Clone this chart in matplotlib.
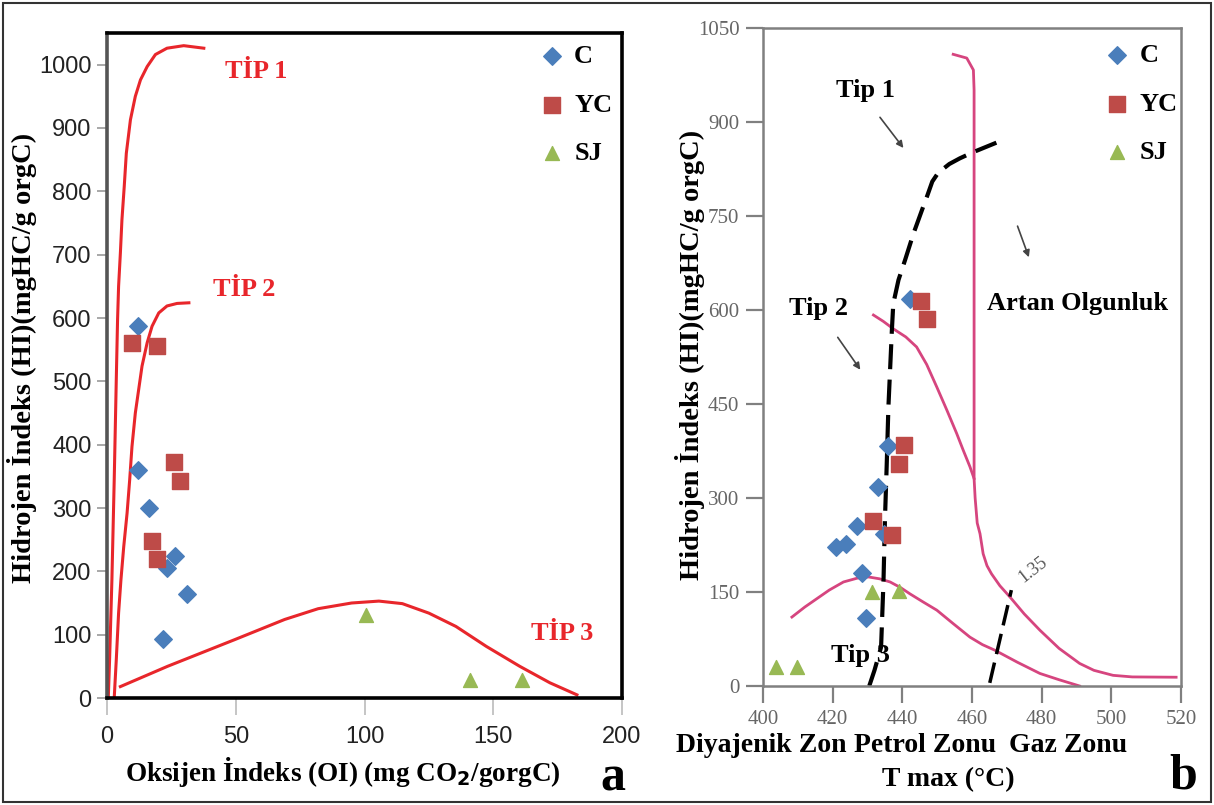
import matplotlib
matplotlib.use("Agg")
import matplotlib.pyplot as plt
from matplotlib.patches import Rectangle

# ---------------- data: panel a (HI vs OI) ----------------
c_oi = [12, 12, 16.5, 26.5, 23.2, 31, 21.7]
c_hi = [587, 360, 300, 224, 205, 164, 93]
yc_oi = [9.9, 19.6, 26, 28.4, 17.6, 19.6]
yc_hi = [561, 555, 372, 343, 248, 220]
sj_oi = [100.4, 140.8, 161]
sj_hi = [131, 28, 28]

tip1_x = [0.5, 1.0, 1.9, 2.8, 3.6, 4.1, 4.5, 5.2, 5.8, 6.7, 7.5, 9.1, 11, 13, 15.6,
          18.8, 23.3, 29.8, 37.6]
tip1_y = [0, 60, 186, 344, 502, 597, 650, 703, 755, 808, 860, 913, 950, 976, 997,
          1016, 1026, 1030, 1026]
tip2_x = [2.8, 3.6, 4.5, 5.4, 6.5, 7.8, 8.8, 9.7, 11, 12.3, 13.6, 15.6, 17.5, 20.1,
          23.3, 27.2, 31.8]
tip2_y = [0, 60, 134, 186, 239, 292, 344, 397, 450, 487, 524, 561, 587, 608, 619,
          623, 624]
tip3_x = [5.2, 23.5, 49.5, 69, 82, 95, 105.6, 114.7, 125, 135.5, 147.3, 160.3, 172, 182.5]
tip3_y = [18, 50, 92, 124, 141, 150, 153, 149, 134, 113, 81.5, 50, 24, 5]

# ---------------- data: panel b (HI vs Tmax) ----------------
c_t = [442.2, 435.8, 432.9, 427.1, 421.0, 423.9, 434.6, 428.4, 429.5]
c_h = [617, 383, 318, 256, 222, 226, 242, 181, 109]
yc_t = [445.3, 447.0, 440.5, 439.1, 431.7, 437.0]
yc_h = [614, 586, 385, 355, 263, 241]
sj_t = [431.2, 439.1, 403.8, 409.7]
sj_h = [150, 152, 30, 30]

curveA_t = [454.6, 458.5, 460.4, 460.6, 460.6, 460.6, 460.9, 461.5, 462.3, 463.2,
            464.3, 465.6, 468.0, 470.9, 475.0, 479.5, 485.0, 490.9, 495.0, 500.5,
            506.0, 518.6]
curveA_h = [1008, 1002, 983, 951, 600, 331, 300, 260, 243, 211,
            192, 179, 160, 142, 115, 89, 60, 36, 25, 17,
            14.5, 14]
curveB_t = [431.7, 434.5, 437.4, 441.0, 444.1, 447.0, 449.9, 452.8, 455.6, 457.5,
            459.4, 460.6]
curveB_h = [592, 582, 570, 557, 541, 513, 477, 440, 403, 376, 350, 331]
tip3b_t = [408.3, 412, 415.5, 419, 423.1, 427, 430.3, 433.5, 436.5, 439.5, 442.2,
           446, 449.9, 454.5, 459.4, 463, 466.6, 473, 479.5, 485, 490.9]
tip3b_h = [110, 126, 139.5, 153, 166, 172, 174, 171, 166, 157, 147,
           134, 121, 100, 78, 66, 57, 38, 20, 10, 0]
dash_t = [430.5, 432.0, 433.9, 434.6, 435.0, 435.5, 436.0, 437.0, 437.4, 438.9,
          440.8, 443.2, 446.0, 447.2, 448.6, 450.3, 453.5, 456.5, 460.4, 467.0]
dash_h = [0, 25, 62, 169, 264, 350, 445, 568, 610, 648,
          680, 722, 765, 783, 805, 819, 833, 842, 852, 867]
r135_t = [465.1, 471.3]
r135_h = [5, 153]

xticks_a = [0, 50, 100, 150, 200]
yticks_a = [0, 100, 200, 300, 400, 500, 600, 700, 800, 900, 1000]
xticks_b = [400, 420, 440, 460, 480, 500, 520]
yticks_b = [0, 150, 300, 450, 600, 750, 900, 1050]

BLUE = "#4a7ebb"
RED_M = "#be4b48"
GREEN = "#98b954"
RED = "#e8262b"
PINK = "#d6457f"
SERIF = ["Liberation Serif", "DejaVu Serif"]

W, H = 1214, 805
fig = plt.figure(figsize=(W / 100, H / 100), dpi=100)


def fx(px):
    return px / W


def fy(py):
    return 1 - py / H


# ---------------- panel a ----------------
ax = fig.add_axes([fx(107), fy(698), (622 - 107) / W, (698 - 33) / H])
ax.set_xlim(0, 200)
ax.set_ylim(0, 1050)
ax.plot(tip1_x, tip1_y, color=RED, lw=2.2, solid_joinstyle="round")
ax.plot(tip2_x, tip2_y, color=RED, lw=2.2, solid_joinstyle="round")
ax.plot(tip3_x, tip3_y, color=RED, lw=2.2, solid_joinstyle="round")
ax.scatter(c_oi, c_hi, marker="D", s=80, color=BLUE, zorder=3, label="C")
ax.scatter(yc_oi, yc_hi, marker="s", s=120, color=RED_M, zorder=3, label="YC")
ax.scatter(sj_oi, sj_hi, marker="^", s=100, color=GREEN, zorder=3, label="SJ")
ax.set_xticks(xticks_a)
ax.set_yticks(yticks_a)
for s in ["top", "right", "bottom"]:
    ax.spines[s].set_color("black")
    ax.spines[s].set_linewidth(2.6)
ax.spines["left"].set_color("#555555")
ax.spines["left"].set_linewidth(2.6)
ax.tick_params(axis="y", direction="out", length=7, width=1.2, color="#999999",
               labelsize=17, pad=4, labelcolor="#222222")
ax.tick_params(axis="x", direction="out", length=12, width=1.2, color="#bbbbbb",
               labelsize=17, pad=8, labelcolor="#222222")
for lab in ax.get_xticklabels() + ax.get_yticklabels():
    lab.set_fontfamily(["Liberation Sans", "DejaVu Sans"])
ax.legend(loc="upper right", bbox_to_anchor=(1.012, 1.006), frameon=False,
          prop={"family": SERIF, "weight": "bold", "size": 19},
          handlelength=1.0, handletextpad=0.35, labelspacing=0.95,
          borderaxespad=0.2, scatterpoints=1)
tkw = dict(xycoords="figure fraction", ha="center", va="center", color=RED,
           fontsize=19, fontweight="bold", family=SERIF)
ax.annotate("TİP 1", xy=(fx(256), fy(72)), **tkw)
ax.annotate("TİP 2", xy=(fx(244), fy(290)), **tkw)
ax.annotate("TİP 3", xy=(fx(562), fy(633)), **tkw)

fig.text(fx(22), fy(358), "Hidrojen İndeks (HI)(mgHC/g orgC)", rotation=90,
         ha="center", va="center", fontsize=20.5, fontweight="bold", family=SERIF)
fig.text(fx(343), fy(772), "Oksijen İndeks (OI) (mg CO$_\\mathbf{2}$/gorgC)",
         ha="center", va="center", fontsize=19.5, fontweight="bold", family=SERIF)
fig.text(fx(613), fy(790), "a", ha="center", va="baseline", fontsize=36,
         fontweight="bold", family=SERIF)

# ---------------- panel b ----------------
bx = fig.add_axes([fx(763), fy(686), (1181 - 763) / W, (686 - 28) / H])
bx.set_xlim(400, 520)
bx.set_ylim(0, 1050)
bx.plot(curveA_t, curveA_h, color=PINK, lw=2, solid_joinstyle="round")
bx.plot(curveB_t, curveB_h, color=PINK, lw=2, solid_joinstyle="round")
bx.plot(tip3b_t, tip3b_h, color=PINK, lw=2, solid_joinstyle="round")
bx.plot(dash_t, dash_h, color="black", lw=3, ls=(0, (6, 2.5)))
bx.plot(r135_t, r135_h, color="black", lw=2.5, ls=(0, (6, 2.5)))
bx.scatter(c_t, c_h, marker="D", s=80, color=BLUE, zorder=3, label="C")
bx.scatter(yc_t, yc_h, marker="s", s=120, color=RED_M, zorder=3, label="YC")
bx.scatter(sj_t, sj_h, marker="^", s=100, color=GREEN, zorder=3, label="SJ")
bx.set_xticks(xticks_b)
bx.set_yticks(yticks_b)
for s in bx.spines.values():
    s.set_color("#808080")
    s.set_linewidth(1.8)
bx.tick_params(axis="both", direction="out", length=12, width=1.6, color="#808080",
               labelsize=15, labelcolor="#666666", pad=5)
for lab in bx.get_xticklabels() + bx.get_yticklabels():
    lab.set_fontfamily(SERIF)
bx.legend(loc="upper right", bbox_to_anchor=(1.03, 1.0), frameon=False,
          prop={"family": SERIF, "weight": "bold", "size": 19},
          handlelength=1.0, handletextpad=0.35, labelspacing=0.95,
          borderaxespad=0.2, scatterpoints=1)

akw = dict(arrowprops=dict(arrowstyle="-|>", color="#444444", lw=1.2,
                           mutation_scale=10))
bx.annotate("", xy=(440.8, 855), xytext=(433.1, 911), **akw)
bx.annotate("", xy=(428.4, 501), xytext=(421.0, 560), **akw)
bx.annotate("", xy=(476.6, 680), xytext=(472.8, 738), **akw)
lkw = dict(fontsize=19, fontweight="bold", family=SERIF, ha="center", va="center")
bx.text(429.3, 951, "Tip 1", **lkw)
bx.text(415.8, 603, "Tip 2", **lkw)
bx.text(427.9, 49, "Tip 3", **lkw)
bx.text(490.4, 611, "Artan Olgunluk", **lkw)
bx.text(477.5, 185, "1.35", fontsize=13, color="#555555", family=SERIF,
        rotation=38, ha="center", va="center")

fig.text(fx(690), fy(355), "Hidrojen İndeks (HI)(mgHC/g orgC)", rotation=90,
         ha="center", va="center", fontsize=20.5, fontweight="bold", family=SERIF)
zkw = dict(ha="center", va="center", fontsize=20, fontweight="bold", family=SERIF)
fig.text(fx(761), fy(745), "Diyajenik Zon", **zkw)
fig.text(fx(925), fy(745), "Petrol Zonu", **zkw)
fig.text(fx(1068), fy(745), "Gaz Zonu", **zkw)
fig.text(fx(948), fy(780), "T max (°C)", **zkw)
fig.text(fx(1183), fy(788), "b", ha="center", va="baseline", fontsize=36,
         fontweight="bold", family=SERIF)

fig.patches.append(Rectangle((fx(3), fy(802)), fx(1208), (802 - 3) / H,
                             transform=fig.transFigure, fill=False,
                             edgecolor="#333333", lw=1.5))

fig.savefig("out.png", dpi=100)
